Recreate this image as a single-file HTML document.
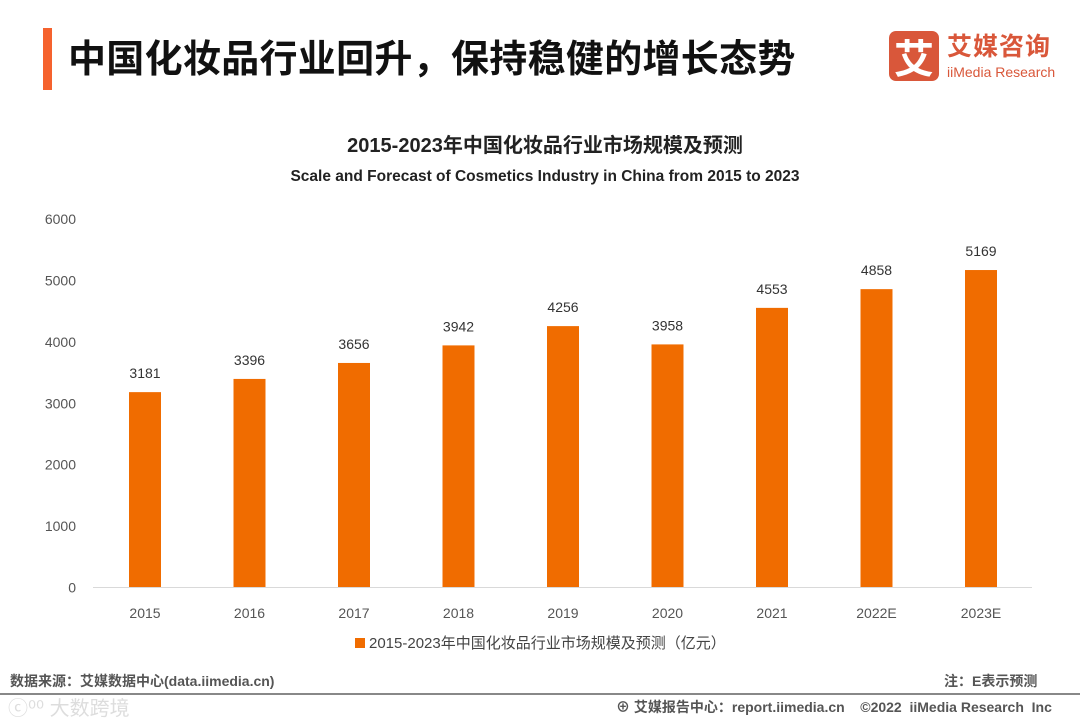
<!DOCTYPE html>
<html><head><meta charset="utf-8"><style>
body{margin:0;width:1080px;height:720px;background:#fff;overflow:hidden;position:relative;font-family:"Liberation Sans","Noto Sans CJK SC",sans-serif}
.abs{position:absolute;white-space:nowrap}
</style></head><body>
<div class="abs" style="left:43px;top:28px;width:9px;height:62px;background:#F5622E"></div>
<div class="abs" style="left:68px;top:30px;font-size:38px;font-weight:bold;color:#111;letter-spacing:0.3px;font-family:'Noto Sans CJK SC',sans-serif;line-height:52px">中国化妆品行业回升，保持稳健的增长态势</div>
<div class="abs" style="left:889px;top:31px;width:170px;height:52px">
 <div style="position:absolute;left:0;top:0;width:50px;height:50px;background:#D9573A;border-radius:7px;color:#fff;font-size:40px;font-weight:bold;text-align:center;line-height:50px;font-family:'Noto Sans CJK SC',sans-serif">艾</div>
 <div style="position:absolute;left:58px;top:-4px;font-size:25px;font-weight:bold;color:#D9573A;font-family:'Noto Sans CJK SC',sans-serif;letter-spacing:1px">艾媒咨询</div>
 <div style="position:absolute;left:58px;top:33px;font-size:14px;color:#D9573A">iiMedia Research</div>
</div>
<svg class="abs" style="left:0;top:0" width="1080" height="720">
 <text x="545" y="152" text-anchor="middle" font-size="20" font-weight="bold" fill="#222" font-family="Liberation Sans,Noto Sans CJK SC,sans-serif">2015-2023年中国化妆品行业市场规模及预测</text>
 <text x="545" y="181" text-anchor="middle" font-size="15.5" font-weight="bold" fill="#222" font-family="Liberation Sans,sans-serif">Scale and Forecast of Cosmetics Industry in China from 2015 to 2023</text>
 <g id="yaxis"></g><g id="bars"></g><g id="xaxis"></g>
 <line x1="93" y1="587.5" x2="1032" y2="587.5" stroke="#d9d9d9" stroke-width="1"/>
 <rect x="355" y="638" width="10" height="10" fill="#F06C00"/>
 <text x="369" y="648" font-size="15" fill="#444" font-family="Liberation Sans,Noto Sans CJK SC,sans-serif">2015-2023年中国化妆品行业市场规模及预测（亿元）</text>
</svg>
<div class="abs" style="left:10px;top:671px;font-size:14px;font-weight:bold;color:#555">数据来源：艾媒数据中心(data.iimedia.cn)</div>
<div class="abs" style="left:944px;top:671px;font-size:14px;font-weight:bold;color:#555">注：E表示预测</div>
<div class="abs" style="left:0;top:693px;width:1080px;height:2px;background:#888"></div>
<div class="abs" style="left:8px;top:692px;font-size:20px;color:#ddd">ⓒ⁰⁰ 大数跨境</div>
<div class="abs" style="left:616px;top:697px;font-size:14px;font-weight:bold;color:#555">⊕ 艾媒报告中心：report.iimedia.cn &nbsp;&nbsp; ©2022 &nbsp;iiMedia Research &nbsp;Inc</div>
<script>
const categories=["2015","2016","2017","2018","2019","2020","2021","2022E","2023E"];
const values=[3181,3396,3656,3942,4256,3958,4553,4858,5169];
const yTicks=[0,1000,2000,3000,4000,5000,6000];
const NS="http://www.w3.org/2000/svg";
const y0=587.5,yTop=219,yMax=6000,x0=145,step=104.5,bw=32;
const y=v=>y0-(v/yMax)*(y0-yTop);
const x=i=>x0+i*step;
function mk(tag,attrs,parent,txt){const e=document.createElementNS(NS,tag);for(const k in attrs)e.setAttribute(k,attrs[k]);if(txt!=null)e.textContent=txt;parent.appendChild(e);return e;}
const ya=document.getElementById('yaxis'),ba=document.getElementById('bars'),xa=document.getElementById('xaxis');
yTicks.forEach(t=>{const e=mk('text',{x:76,y:y(t)+5,'text-anchor':'end','font-size':14,fill:'#555','font-family':'Liberation Sans,sans-serif'},ya,t);

});
categories.forEach((c,i)=>{
 const r=mk('rect',{x:x(i)-bw/2,y:y(values[i]),width:bw,height:y0-y(values[i]),fill:'#F06C00'},ba);
 
 
 const l=mk('text',{x:x(i),y:y(values[i])-14,'text-anchor':'middle','font-size':14,fill:'#333','font-family':'Liberation Sans,sans-serif'},ba,values[i]);
 
 
 const t=mk('text',{x:x(i),y:618,'text-anchor':'middle','font-size':14,fill:'#555','font-family':'Liberation Sans,sans-serif'},xa,c);
 
 
});
</script>
</body></html>
